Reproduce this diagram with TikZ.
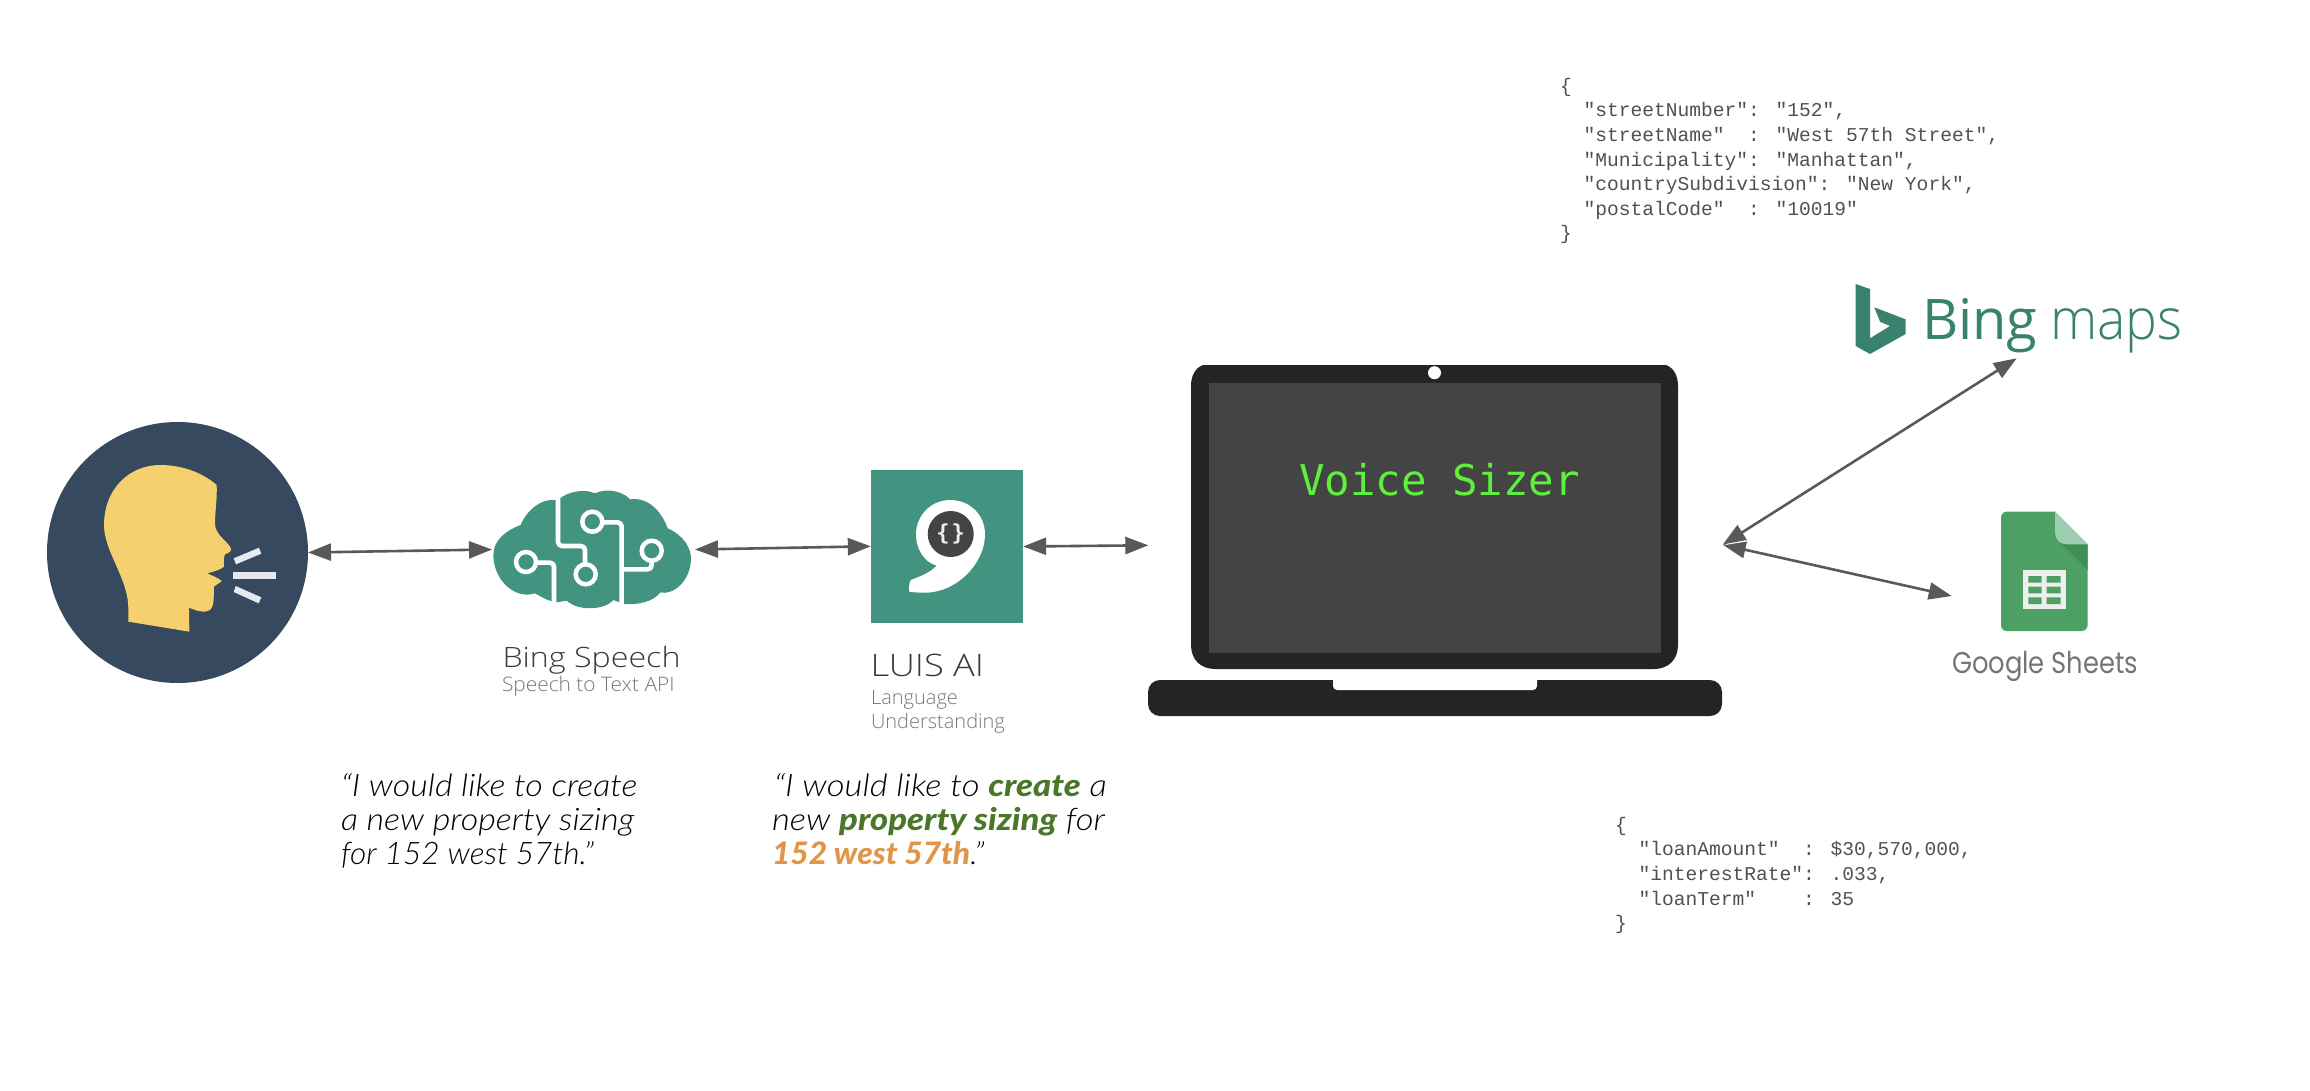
\documentclass[tikz,border=0pt]{standalone}
\usepackage{fontspec}
\usepackage{graphicx}
\usetikzlibrary{arrows.meta}
\setmainfont{Open Sans}
\newfontfamily\worklight{Open Sans Light}
\newfontfamily\quotefont[ItalicFont={Lato Light Italic},BoldItalicFont={Lato Black Italic}]{Lato Light}
\newfontfamily\jsonfont{Liberation Mono}
\newfontfamily\screenfont{DejaVu Sans Mono}
\newfontfamily\bingfont{Open Sans}
\newfontfamily\bingthin{Open Sans Light}
\newfontfamily\gfont{Poppins}
\newcommand\xfit[2]{\scalebox{#1}[1]{#2}}
\definecolor{arrowgrey}{HTML}{595959}
\definecolor{teal}{HTML}{429480}
\definecolor{bingteal}{HTML}{38826F}
\definecolor{navy}{HTML}{36495E}
\definecolor{skin}{HTML}{F6D06E}
\definecolor{barwhite}{HTML}{E6E9ED}
\definecolor{lapdark}{HTML}{252425}
\definecolor{lapscreen}{HTML}{444444}
\definecolor{termgreen}{HTML}{5FEF3F}
\definecolor{darktext}{HTML}{3A3A3A}
\definecolor{midtext}{HTML}{777777}
\definecolor{jsontext}{HTML}{505050}
\definecolor{qgreen}{HTML}{4B772B}
\definecolor{qorange}{HTML}{E0964A}
\definecolor{sheetgreen}{HTML}{4DA063}
\definecolor{sheetfold}{HTML}{9CCFB0}
\definecolor{sheetshade}{HTML}{418F58}
\definecolor{sheettable}{HTML}{EEEEEE}
\definecolor{gtext}{HTML}{757575}
\tikzset{
  link/.style={draw=arrowgrey,line width=2.6pt,{Triangle[length=23pt,width=17pt]}-{Triangle[length=23pt,width=17pt]}},
  txt/.style={inner sep=0pt,outer sep=0pt,anchor=base west},
  jsonblock/.style={inner sep=0pt,outer sep=0pt,anchor=north west,align=left,text=jsontext,font=\jsonfont\fontsize{19.6}{24.6}\selectfont},
  ringdot/.style={draw=white,line width=4.5pt,fill=teal},
  wire/.style={draw=white,line width=4.6pt,line join=round,rounded corners=4pt},
}
\begin{document}
\begin{tikzpicture}[x=1pt,y=-1pt]
\useasboundingbox (0,0) rectangle (2310,1090);
% person
\node[circle,fill=navy,minimum size=261pt,inner sep=0pt,outer sep=0pt] (person) at (177.5,552.5) {};
\begin{scope}[x=0.33333pt,y=-0.33333pt,xshift=90pt,yshift=-455pt]
\fill[skin] (115,500) -- (298,530) -- (297,458) .. controls (320,468) and (345,475) .. (360,465)
  .. controls (375,450) and (370,420) .. (372,395) .. controls (385,385) and (395,380) .. (395,378)
  .. controls (385,368) and (365,362) .. (352,355) .. controls (370,350) and (390,345) .. (402,335)
  .. controls (400,320) and (402,305) .. (405,297) .. controls (415,295) and (425,290) .. (423,280)
  .. controls (410,255) and (375,240) .. (375,205) .. controls (375,170) and (382,130) .. (380,90)
  .. controls (340,55) and (280,30) .. (210,30) .. controls (120,30) and (42,100) .. (42,210)
  .. controls (42,290) and (115,370) .. (115,460) -- cycle;
\fill[barwhite] (431,310) -- (507,278) -- (514,296) -- (438,328) -- cycle;
\fill[barwhite] (428,350) -- (557,350) -- (557,372) -- (428,372) -- cycle;
\fill[barwhite] (437,393) -- (514,427) -- (506,445) -- (431,411) -- cycle;
\end{scope}
% brain
\node[minimum width=203pt,minimum height=118pt,inner sep=0pt,outer sep=0pt] (brain) at (593.5,549.5) {};
\begin{scope}[x=0.33333pt,y=-0.33333pt,xshift=485pt,yshift=-480pt]
\fill[teal] (225,55) .. controls (250,35) and (300,25) .. (330,40) .. controls (360,25) and (410,30) .. (435,58)
  .. controls (490,50) and (530,95) .. (548,145) .. controls (595,165) and (620,205) .. (618,240)
  .. controls (615,300) and (570,345) .. (525,338) .. controls (505,365) and (460,375) .. (418,372)
  -- (385,360) .. controls (360,390) and (280,395) .. (245,362) -- (215,367)
  .. controls (195,365) and (170,352) .. (150,340) .. controls (90,360) and (25,300) .. (25,225)
  .. controls (25,180) and (65,150) .. (107,135) .. controls (125,90) and (170,55) .. (210,60) -- cycle;
\draw[wire] (219,48) -- (219,198) -- (300,198) -- (300,255);
\draw[wire] (350,127) -- (410,127) -- (410,380);
\draw[wire] (155,248) -- (207,248) -- (207,372);
\draw[wire] (500,240) -- (500,268) -- (413,268);
\end{scope}
\draw[ringdot] (526,562) circle[radius=10];
\draw[ringdot] (592.3,521.7) circle[radius=10];
\draw[ringdot] (585.7,574.3) circle[radius=10];
\draw[ringdot] (651.7,550.7) circle[radius=10];
\node[txt,text=darktext,font=\worklight\fontsize{28}{34}\selectfont] (bingspeech) at (502.5,667.7) {\xfit{1.15}{Bing Speech}};
\node[txt,text=midtext,font=\worklight\fontsize{20}{24}\selectfont] (speechapi) at (502,691.7) {\xfit{1.045}{Speech to Text API}};
% LUIS
\node[rectangle,fill=teal,minimum size=152.3pt,inner sep=0pt,outer sep=0pt] (luis) at (947,546.5) {};
\begin{scope}[x=0.33333pt,y=-0.33333pt,xshift=680pt,yshift=-440pt]
\fill[white] (810,180) .. controls (870,180) and (915,225) .. (915,283) .. controls (915,370) and (830,458) .. (735,458)
  .. controls (715,458) and (700,457) .. (688,455) .. controls (686,440) and (688,428) .. (692,420)
  .. controls (720,410) and (750,398) .. (770,377) .. controls (730,365) and (708,325) .. (708,283)
  .. controls (708,225) and (755,180) .. (810,180) -- cycle;
\end{scope}
\node[circle,fill=lapscreen,minimum size=46pt,inner sep=0pt,text=sheettable,font=\screenfont\bfseries\fontsize{22}{24}\selectfont] (luisbadge) at (950.7,534) {\{\kern2pt\}};
\node[txt,text=darktext,font=\worklight\fontsize{31}{38}\selectfont] (luisname) at (870.5,676.7) {\xfit{1.17}{LUIS AI}};
\node[txt,text=midtext,font=\worklight\fontsize{20}{24}\selectfont] (luislang) at (871,704) {Language};
\node[txt,text=midtext,font=\worklight\fontsize{20}{24}\selectfont] (luisunder) at (871,728) {Understanding};
% laptop
\fill[lapdark] (1203,365) -- (1666,365) .. controls (1674,368) and (1678,376) .. (1678,386) -- (1678,645)
  .. controls (1678,660) and (1668,669) .. (1654,669) -- (1215,669) .. controls (1201,669) and (1191,660) .. (1191,645)
  -- (1191,386) .. controls (1191,376) and (1195,368) .. (1203,365) -- cycle;
\node[rectangle,fill=lapscreen,minimum width=452pt,minimum height=270pt,inner sep=0pt,outer sep=0pt] (screen) at (1435,518) {};
\node[circle,fill=white,minimum size=13pt,inner sep=0pt] (camera) at (1434.5,372.7) {};
\node[rectangle,fill=lapdark,rounded corners=12pt,minimum width=574pt,minimum height=36pt,inner sep=0pt,outer sep=0pt] (base) at (1435,698) {};
\fill[white] (1333,678) -- (1537,678) -- (1537,686) arc[start angle=0,end angle=90,radius=4] -- (1337,690) arc[start angle=90,end angle=180,radius=4] -- cycle;
\node[txt,text=termgreen,font=\screenfont\fontsize{42.4}{48}\selectfont] (voicesizer) at (1299,495) {Voice Sizer};
\coordinate (lapL) at (1148.3,545.3);
\coordinate (lapR) at (1722.7,544.7);
% Bing maps
\begin{scope}[x=0.33333pt,y=-0.33333pt,xshift=1700pt,yshift=-260pt]
\fill[bingteal] (467,72) -- (510,87) -- (510,235) -- (570,198) -- (540,185) -- (523,142) -- (617,178) -- (617,222) -- (510,282) -- (467,258) -- cycle;
\end{scope}
\node[txt,text=bingteal,font=\bingfont\fontsize{56}{64}\selectfont] (bingword) at (1922,339) {Bing};
\node[txt,text=bingteal,font=\bingthin\fontsize{57}{64}\selectfont] (mapsword) at (2050,339) {\xfit{0.94}{maps}};
\coordinate (bingport) at (2016.7,358.3);
% Sheets
\begin{scope}[x=0.33333pt,y=-0.33333pt,xshift=1700pt,yshift=-260pt]
\fill[sheetgreen] (920,755) -- (1065,755) -- (1163,853) -- (1163,1095) .. controls (1163,1105) and (1155,1113) .. (1145,1113)
 -- (920,1113) .. controls (910,1113) and (903,1105) .. (903,1095) -- (903,773) .. controls (903,763) and (910,755) .. (920,755) -- cycle;
\fill[sheetshade] (1075,842) -- (1163,853) -- (1163,930) -- cycle;
\fill[sheetfold] (1065,755) -- (1163,853) -- (1100,853) .. controls (1080,853) and (1065,838) .. (1065,818) -- cycle;
\fill[sheettable] (968,930) rectangle (1098,1048);
\fill[sheetgreen] (985,948) rectangle (1025,968) (1040,948) rectangle (1082,968)
 (985,980) rectangle (1025,1000) (1040,980) rectangle (1082,1000)
 (985,1012) rectangle (1025,1032) (1040,1012) rectangle (1082,1032);
\end{scope}
\node[txt,text=gtext,font=\gfont\fontsize{30}{34}\selectfont] (gsheets) at (1952,673) {\xfit{0.86}{Google Sheets}};
\coordinate (sheetport) at (1951.7,596);
% connectors
\draw[link] (person.east) -- (brain.west);
\draw[link] (brain.east) -- ([yshift=0.2pt]luis.west);
\draw[link] (luis.east) -- (lapL);
\draw[link] (lapR) -- (sheetport);
\draw[link] (lapR) -- (bingport);
\coordinate (sliverA) at (1726,544.4);
\coordinate (sliverB) at (1747,541);
\draw[white,line width=0.8pt] (sliverA) -- (sliverB);
% quotes
\begin{scope}[every node/.style={txt,text=black,font=\quotefont\itshape\fontsize{31}{34}\selectfont}]
\node (qa1) at (341,796) {\xfit{1.10}{“I would like to create}};
\node (qa2) at (341,830) {\xfit{1.10}{a new property sizing}};
\node (qa3) at (341,864) {\xfit{1.02}{for 152 west 57th.”}};
\node (qb1) at (774,796) {\xfit{1.12}{“I would like to \textcolor{qgreen}{\bfseries create} a}};
\node (qb2) at (772,830) {\xfit{1.117}{new \textcolor{qgreen}{\bfseries property sizing} for}};
\node (qb3) at (772,864) {\xfit{1.024}{\textcolor{qorange}{\bfseries 152 west 57th}.”}};
\end{scope}
% JSON
\node[jsonblock] (jsona) at (1560,78) {\{\\
~~"streetNumber": "152",\\
~~"streetName"~~: "West 57th Street",\\
~~"Municipality": "Manhattan",\\
~~"countrySubdivision": "New York",\\
~~"postalCode"~~: "10019"\\
\}};
\node[jsonblock] (jsonb) at (1615,817) {\{\\
~~"loanAmount"~~: \$30,570,000,\\
~~"interestRate": .033,\\
~~"loanTerm"~~~~: 35\\
\}};
\end{tikzpicture}
\end{document}
